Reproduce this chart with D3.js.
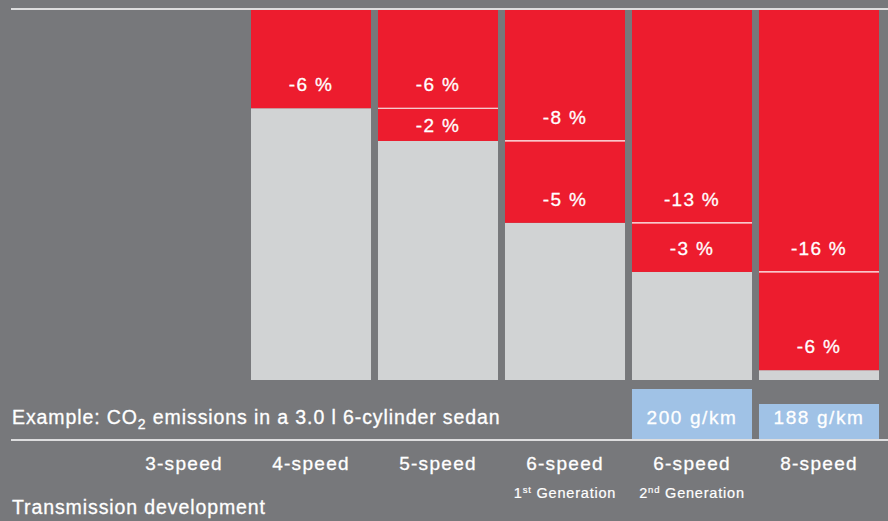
<!DOCTYPE html>
<html>
<head>
<meta charset="utf-8">
<script src="https://cdn.jsdelivr.net/npm/d3@7"></script>
<style>
  body { margin: 0; background: #77787b; }
  svg text { font-family: 'Liberation Sans', Arial, sans-serif; fill: #fff; stroke: #fff; stroke-width: 0.3px; }
</style>
</head>
<body>
<svg id="chart" width="888" height="521"></svg>
<script>
// Données du graphique
const ids = ['s3', 's4', 's5', 's6a', 's6b', 's8'];
const gearLabels = ['3-speed', '4-speed', '5-speed', '6-speed', '6-speed', '8-speed'];
const genNumbers = ['', '', '', '1', '2', ''];
const genSuffix = ['', '', '', 'st', 'nd', ''];
const savings = [[], [6], [6, 2], [8, 5], [13, 3], [16, 6]];
const emissions = [null, null, null, null, 200, 188];

const width = 888;
const height = 521;
const barBottom = 380;
const baseLine = 440;

const svg = d3.select('#chart');

svg.append('rect').attr('width', width).attr('height', height).attr('fill', '#77787b');

// Échelles
const xScale = d3.scaleBand()
	.domain(ids)
	.range([120.5, 882.5])
	.paddingInner(0.055)
	.paddingOuter(0.0275);

const yScale = d3.scaleLinear()
	.domain([77.4, 100])
	.range([barBottom, 10]);

const co2Scale = d3.scaleLinear()
	.domain([160, 200])
	.range([0, 50]);

// Préparer les segments empilés (100 % au sommet)
const columns = ids.map((id, i) => {
	let level = 100;
	const segs = savings[i].map((s, j) => {
		const seg = { id, top: level, bottom: level - s, value: s, index: j };
		level -= s;
		return seg;
	});
	return { id, segs, rest: level };
}).filter((c) => c.segs.length > 0);

// Barres grises (reste des émissions)
svg.selectAll('rect.rest')
	.data(columns)
	.enter()
	.append('rect')
	.attr('class', 'rest')
	.attr('x', (d) => xScale(d.id))
	.attr('y', (d) => yScale(d.rest))
	.attr('width', xScale.bandwidth())
	.attr('height', (d) => barBottom - yScale(d.rest))
	.attr('fill', '#d1d3d4');

const allSegs = columns.flatMap((c) => c.segs);

// Segments rouges (réductions)
svg.selectAll('rect.saving')
	.data(allSegs)
	.enter()
	.append('rect')
	.attr('class', 'saving')
	.attr('x', (d) => xScale(d.id))
	.attr('y', (d) => yScale(d.top))
	.attr('width', xScale.bandwidth())
	.attr('height', (d) => yScale(d.bottom) - yScale(d.top))
	.attr('fill', '#ed1c2e');

// Séparateurs blancs entre segments rouges
svg.selectAll('line.sep')
	.data(allSegs.filter((d) => d.index > 0))
	.enter()
	.append('line')
	.attr('class', 'sep')
	.attr('x1', (d) => xScale(d.id))
	.attr('x2', (d) => xScale(d.id) + xScale.bandwidth())
	.attr('y1', (d) => yScale(d.top))
	.attr('y2', (d) => yScale(d.top))
	.attr('stroke', '#fff')
	.attr('stroke-width', 1.2);

// Étiquettes des réductions
svg.selectAll('text.val')
	.data(allSegs)
	.enter()
	.append('text')
	.attr('class', 'val')
	.attr('x', (d) => xScale(d.id) + xScale.bandwidth() / 2)
	.attr('y', (d) => {
		const b = yScale(d.bottom);
		const mid = (yScale(d.top) + b) / 2;
		return Math.max(b - 17, mid + 7);
	})
	.attr('text-anchor', 'middle')
	.attr('font-size', '19px')
	.attr('letter-spacing', '1.3px')
	.text((d) => `-${d.value} %`);

// Ligne du haut
svg.append('line')
	.attr('x1', 11).attr('x2', width)
	.attr('y1', 9).attr('y2', 9)
	.attr('stroke', '#fff').attr('stroke-width', 1.5);

// Boîtes CO2
const co2 = ids.map((id, i) => ({ id, v: emissions[i] })).filter((d) => d.v !== null);

svg.selectAll('rect.co2')
	.data(co2)
	.enter()
	.append('rect')
	.attr('class', 'co2')
	.attr('x', (d) => xScale(d.id))
	.attr('y', (d) => baseLine - 1 - co2Scale(d.v))
	.attr('width', xScale.bandwidth())
	.attr('height', (d) => co2Scale(d.v))
	.attr('fill', '#a0c2e6');

svg.selectAll('text.co2')
	.data(co2)
	.enter()
	.append('text')
	.attr('class', 'co2')
	.attr('x', (d) => xScale(d.id) + xScale.bandwidth() / 2)
	.attr('y', 424)
	.attr('text-anchor', 'middle')
	.attr('font-size', '19px')
	.attr('letter-spacing', '1.6px')
	.text((d) => `${d.v} g/km`);

// Texte d'exemple
const ex = svg.append('text')
	.attr('x', 12).attr('y', 424)
	.attr('font-size', '19.5px')
	.attr('letter-spacing', '0.9px');
ex.append('tspan').text('Example: CO');
ex.append('tspan').attr('font-size', '14px').attr('dy', 5).text('2');
ex.append('tspan').attr('dy', -5).text(' emissions in a 3.0 l 6-cylinder sedan');

// Ligne de base
svg.append('line')
	.attr('x1', 11).attr('x2', width)
	.attr('y1', baseLine).attr('y2', baseLine)
	.attr('stroke', '#fff').attr('stroke-width', 1.5);

// Axe X (libellés des boîtes de vitesses)
const xAxis = svg.append('g')
	.attr('transform', `translate(0,${baseLine})`)
	.call(d3.axisBottom(xScale).tickSize(0).tickPadding(0).tickFormat((d, i) => gearLabels[i]));
xAxis.select('.domain').remove();
xAxis.selectAll('text')
	.attr('y', 30)
	.attr('dy', 0)
	.attr('font-size', '19px')
	.attr('letter-spacing', '1.3px')
	.attr('font-family', null)
	.attr('fill', '#fff');

// Sous-libellés (génération)
const gen = svg.selectAll('text.gen')
	.data(ids.map((id, i) => ({ id, n: genNumbers[i], s: genSuffix[i] })).filter((d) => d.n))
	.enter()
	.append('text')
	.attr('class', 'gen')
	.attr('x', (d) => xScale(d.id) + xScale.bandwidth() / 2)
	.attr('y', 498)
	.attr('text-anchor', 'middle')
	.attr('font-size', '14.5px')
	.attr('letter-spacing', '0.8px')
	.style('stroke-width', '0.2px');
gen.append('tspan').text((d) => d.n);
gen.append('tspan').attr('font-size', '9.5px').attr('dy', -5).text((d) => d.s);
gen.append('tspan').attr('dy', 5).text(' Generation');

// Titre de l'axe
svg.append('text')
	.attr('x', 12).attr('y', 514)
	.attr('font-size', '19.5px')
	.attr('letter-spacing', '0.9px')
	.text('Transmission development');
</script>
</body>
</html>
